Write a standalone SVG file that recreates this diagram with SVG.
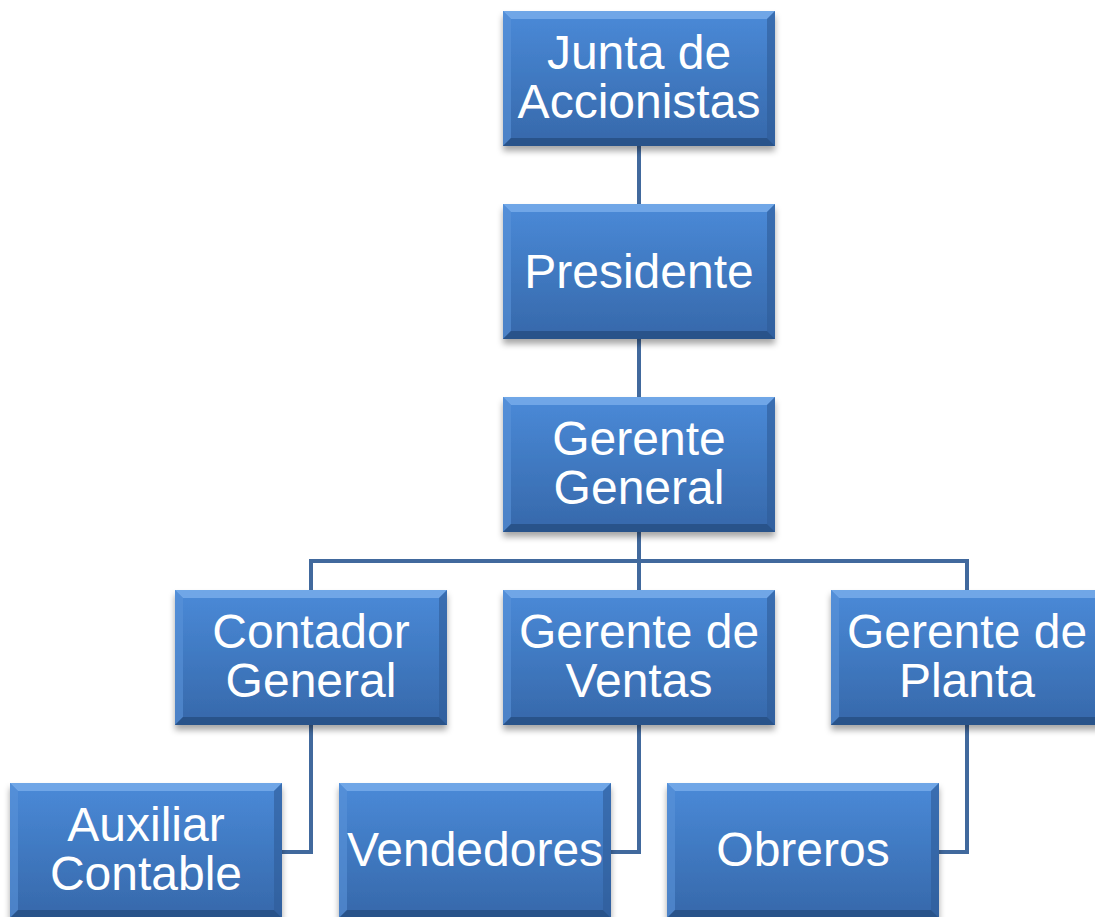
<svg xmlns="http://www.w3.org/2000/svg" xmlns:xlink="http://www.w3.org/1999/xlink" width="1095" height="917" viewBox="0 0 1095 917">
<style>
.lbl{font-family:"Liberation Sans",Arial,sans-serif;font-size:48px;fill:#ffffff;text-anchor:middle}
.conn{fill:none;stroke:#41699d;stroke-width:4;stroke-linejoin:miter}
</style>
<defs>
<linearGradient id="g" x1="0" y1="0" x2="0" y2="1">
<stop offset="0" stop-color="#4a8ad8"/>
<stop offset="1" stop-color="#3668aa"/>
</linearGradient>
<filter id="sh" x="-10%" y="-10%" width="130%" height="130%">
<feDropShadow dx="0" dy="5" stdDeviation="3" flood-color="#000" flood-opacity="0.35"/>
</filter>
<g id="box">
<rect x="0" y="0" width="272" height="135" fill="url(#g)" filter="url(#sh)"/>
<polygon points="0,0 272,0 264,8 8,8" fill="#7eb0ec" opacity="0.75"/>
<polygon points="0,0 8,8 8,127 0,135" fill="#5a93d8" opacity="0.6"/>
<polygon points="272,0 272,135 264,127 264,8" fill="#2f5c98" opacity="0.6"/>
<polygon points="0,135 8,127 264,127 272,135" fill="#264d82" opacity="0.8"/>
</g>
</defs>
<rect width="1095" height="917" fill="#ffffff"/>
<g id="connectors">
<line class="conn" x1="639" y1="146" x2="639" y2="204"/>
<line class="conn" x1="639" y1="339" x2="639" y2="397"/>
<line class="conn" x1="639" y1="532" x2="639" y2="590"/>
<polyline class="conn" points="311,590 311,561 967,561 967,590"/>
<polyline class="conn" points="311,725 311,852 282,852"/>
<polyline class="conn" points="639,725 639,852 611,852"/>
<polyline class="conn" points="967,725 967,852 939,852"/>
</g>
<g id="junta"><use xlink:href="#box" x="503" y="11"/><text class="lbl" x="639" y="69">Junta de</text><text class="lbl" x="639" y="118">Accionistas</text></g>
<g id="presidente"><use xlink:href="#box" x="503" y="204"/><text class="lbl" x="639" y="288">Presidente</text></g>
<g id="gerente-general"><use xlink:href="#box" x="503" y="397"/><text class="lbl" x="639" y="455">Gerente</text><text class="lbl" x="639" y="504">General</text></g>
<g id="contador"><use xlink:href="#box" x="175" y="590"/><text class="lbl" x="311" y="648">Contador</text><text class="lbl" x="311" y="697">General</text></g>
<g id="ventas"><use xlink:href="#box" x="503" y="590"/><text class="lbl" x="639" y="648">Gerente de</text><text class="lbl" x="639" y="697">Ventas</text></g>
<g id="planta"><use xlink:href="#box" x="831" y="590"/><text class="lbl" x="967" y="648">Gerente de</text><text class="lbl" x="967" y="697">Planta</text></g>
<g id="auxiliar"><use xlink:href="#box" x="10" y="783"/><text class="lbl" x="146" y="841">Auxiliar</text><text class="lbl" x="146" y="890">Contable</text></g>
<g id="vendedores"><use xlink:href="#box" x="339" y="783"/><text class="lbl" x="475" y="866">Vendedores</text></g>
<g id="obreros"><use xlink:href="#box" x="667" y="783"/><text class="lbl" x="803" y="866">Obreros</text></g>
</svg>
